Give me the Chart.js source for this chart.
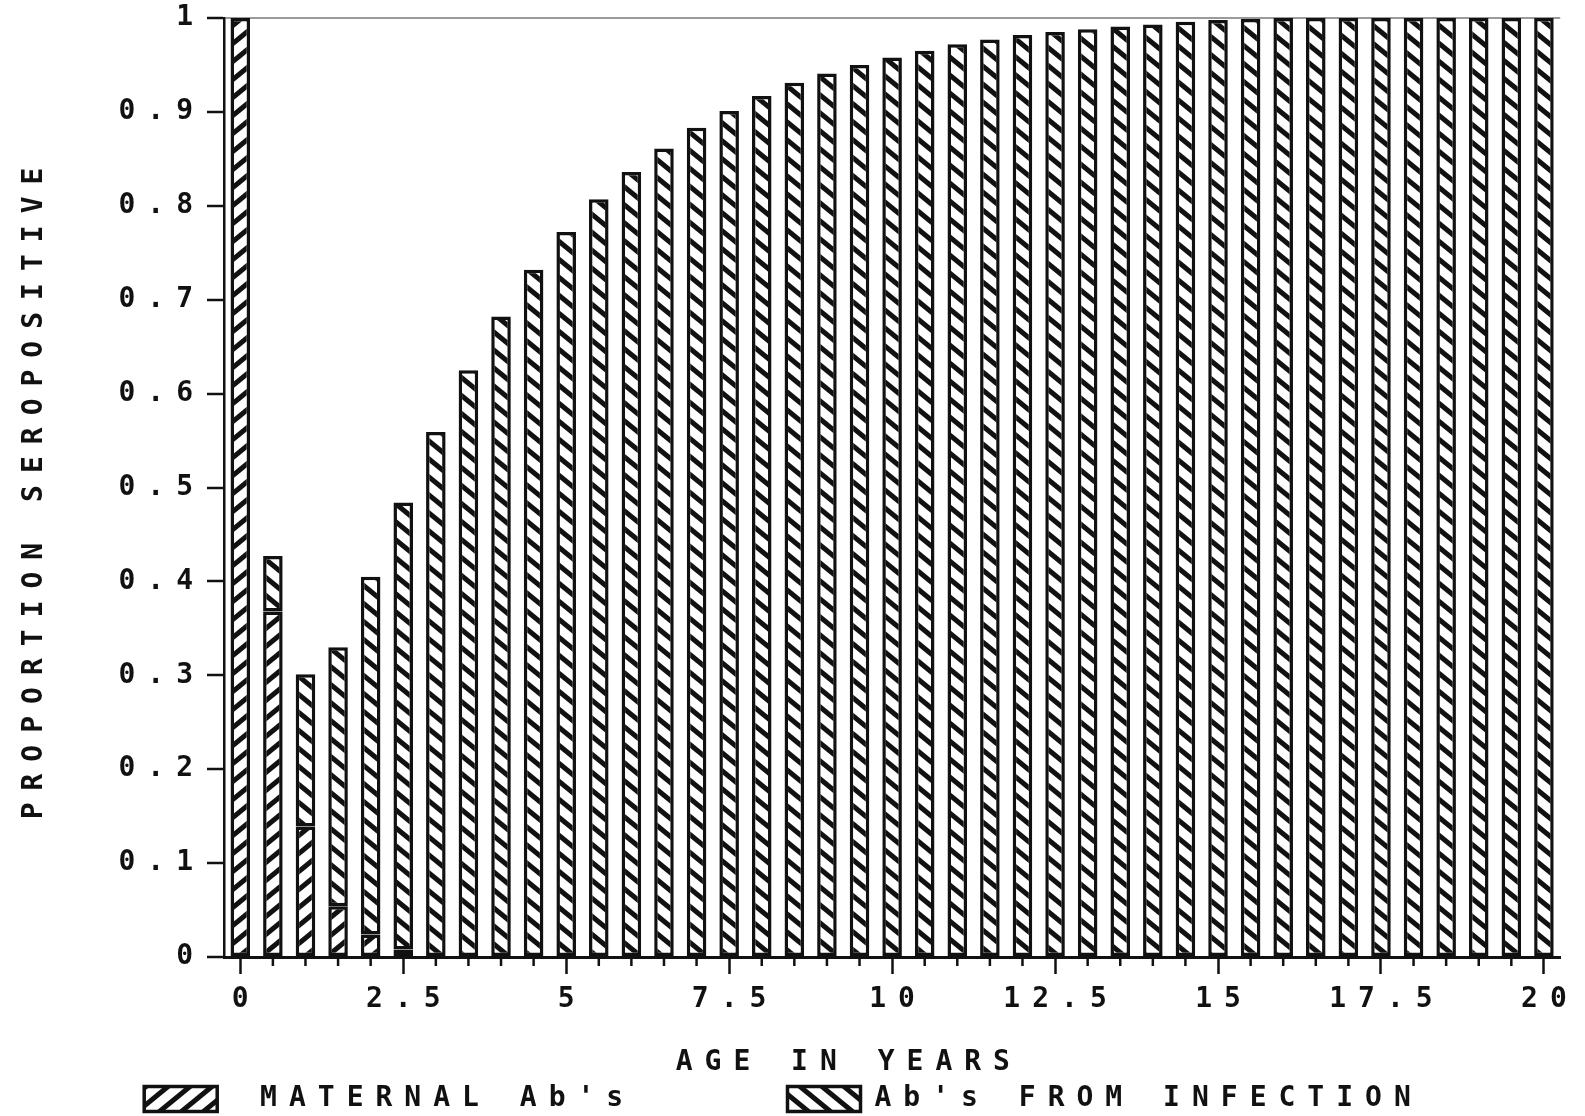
<!DOCTYPE html>
<html>
<head>
  <title>Proportion Seropositive by Age</title>
  <script src="https://cdn.jsdelivr.net/npm/chart.js"></script>
  <style>
    body { margin: 0; background: #fff; }
    #wrap { width: 1585px; height: 1116px; }
  </style>
</head>
<body>
  <div id="wrap"><canvas id="sero" width="1585" height="1116"></canvas></div>
  <script>
    // age groups in half-year steps
    const ages = ['0', '0.5', '1', '1.5', '2', '2.5', '3', '3.5', '4', '4.5',
                  '5', '5.5', '6', '6.5', '7', '7.5', '8', '8.5', '9', '9.5',
                  '10', '10.5', '11', '11.5', '12', '12.5', '13', '13.5', '14', '14.5',
                  '15', '15.5', '16', '16.5', '17', '17.5', '18', '18.5', '19', '19.5', '20'];

    // proportion with maternal antibody
    const maternal = [1.0, 0.368, 0.139, 0.054, 0.024, 0.008, 0, 0, 0, 0,
                      0, 0, 0, 0, 0, 0, 0, 0, 0, 0,
                      0, 0, 0, 0, 0, 0, 0, 0, 0, 0,
                      0, 0, 0, 0, 0, 0, 0, 0, 0, 0, 0];

    // proportion with antibody from infection
    const infection = [0, 0.059, 0.162, 0.276, 0.381, 0.476, 0.559, 0.625, 0.682, 0.732,
                       0.772, 0.807, 0.836, 0.861, 0.883, 0.901, 0.917, 0.931, 0.941, 0.950,
                       0.958, 0.965, 0.972, 0.977, 0.982, 0.985, 0.988, 0.991, 0.993, 0.996,
                       0.998, 0.999, 1.0, 1.0, 1.0, 1.0, 1.0, 1.0, 1.0, 1.0, 1.0];

    const seriesNames = ["MATERNAL Ab's", "Ab's FROM INFECTION"];
    const xTitle = 'AGE IN YEARS';
    const yTitle = 'PROPORTION SEROPOSITIVE';

    const INK = '#111';
    const MONO = "'DejaVu Sans Mono', monospace";
    const NBSP = '\u00a0';
    const textFont = { family: MONO, size: 28, weight: 'bold', lineHeight: 1 };

    // diagonal hatch fill; dir 1 = "/" and -1 = "\"
    function hatch(dir) {
      const w = 22, h = 18;
      const c = document.createElement('canvas');
      c.width = w; c.height = h;
      const g = c.getContext('2d');
      g.fillStyle = '#fff';
      g.fillRect(0, 0, w, h);
      g.strokeStyle = INK;
      g.lineWidth = 5;
      for (let k = -2; k <= 2; k++) {
        g.beginPath();
        if (dir > 0) {
          g.moveTo(-w, 2 * h + k * h);
          g.lineTo(2 * w, -h + k * h);
        } else {
          g.moveTo(-w, -h + k * h);
          g.lineTo(2 * w, 2 * h + k * h);
        }
        g.stroke();
      }
      return g.createPattern(c, 'repeat');
    }

    // wide typewriter-like spacing for all text
    const spacing = {
      id: 'spacing',
      beforeUpdate(chart) { chart.ctx.letterSpacing = '12px'; },
      beforeDraw(chart) { chart.ctx.letterSpacing = '12px'; }
    };

    // short ticks for the unlabelled half-year marks
    const minorTicks = {
      id: 'minorTicks',
      afterDraw(chart) {
        const x = chart.scales.x;
        const ctx = chart.ctx;
        ctx.save();
        ctx.strokeStyle = INK;
        ctx.lineWidth = 2.5;
        ages.forEach((a, i) => {
          if (i % 5 === 0) return;
          const px = x.getPixelForTick(i);
          ctx.beginPath();
          ctx.moveTo(px, x.top);
          ctx.lineTo(px, x.top + 9);
          ctx.stroke();
        });
        ctx.restore();
      }
    };

    new Chart(document.getElementById('sero'), {
      type: 'bar',
      data: {
        labels: ages,
        datasets: [
          {
            label: seriesNames[0],
            data: maternal,
            backgroundColor: hatch(1),
            borderColor: INK,
            borderWidth: 3.5,
            borderSkipped: false
          },
          {
            label: seriesNames[1],
            data: infection,
            backgroundColor: hatch(-1),
            borderColor: INK,
            borderWidth: 3.5,
            borderSkipped: false
          }
        ]
      },
      options: {
        responsive: false,
        animation: false,
        devicePixelRatio: 1,
        datasets: { bar: { categoryPercentage: 1, barPercentage: 0.6 } },
        layout: { padding: { top: 18, right: 18, left: 0, bottom: -7 } },
        plugins: {
          tooltip: { enabled: false },
          legend: {
            position: 'bottom',
            labels: {
              color: INK,
              font: textFont,
              boxWidth: 73,
              boxHeight: 25,
              padding: 8,
              generateLabels(chart) {
                const items = Chart.defaults.plugins.legend.labels.generateLabels(chart);
                // extra gap after the first entry
                items[0].text = NBSP + items[0].text + NBSP.repeat(5);
                return items;
              }
            }
          }
        },
        scales: {
          x: {
            stacked: true,
            offset: true,
            border: { display: true, color: INK, width: 3 },
            grid: {
              offset: false,
              drawOnChartArea: false,
              tickLength: 17,
              tickWidth: 2.5,
              tickColor: c => (c.index % 5 === 0 ? INK : 'rgba(0,0,0,0)')
            },
            ticks: {
              autoSkip: false,
              maxRotation: 0,
              padding: 12,
              labelOffset: 6,
              color: INK,
              font: textFont,
              callback: (v, i) => (i % 5 === 0 ? ages[i] : '')
            },
            title: {
              display: true,
              text: xTitle + NBSP.repeat(3),
              color: INK,
              font: textFont,
              padding: { top: 0, bottom: 0 }
            },
            afterFit: s => { s.height = 120; }
          },
          y: {
            stacked: true,
            min: 0,
            max: 1,
            border: { display: true, color: INK, width: 2.5 },
            grid: {
              drawOnChartArea: true,
              color: c => (c.tick && c.tick.value === 1 ? '#9a9a9a' : 'rgba(0,0,0,0)'),
              lineWidth: 2,
              tickLength: 17,
              tickWidth: 2.5,
              tickColor: INK
            },
            ticks: {
              stepSize: 0.1,
              padding: 2,
              color: INK,
              font: textFont,
              callback: v => (v === 0 || v === 1 ? String(v) : v.toFixed(1))
            },
            title: {
              display: true,
              text: yTitle,
              color: INK,
              font: textFont,
              padding: { top: 21, bottom: 0 }
            },
            afterFit: s => { s.width = 224; }
          }
        }
      },
      plugins: [spacing, minorTicks]
    });
  </script>
</body>
</html>
